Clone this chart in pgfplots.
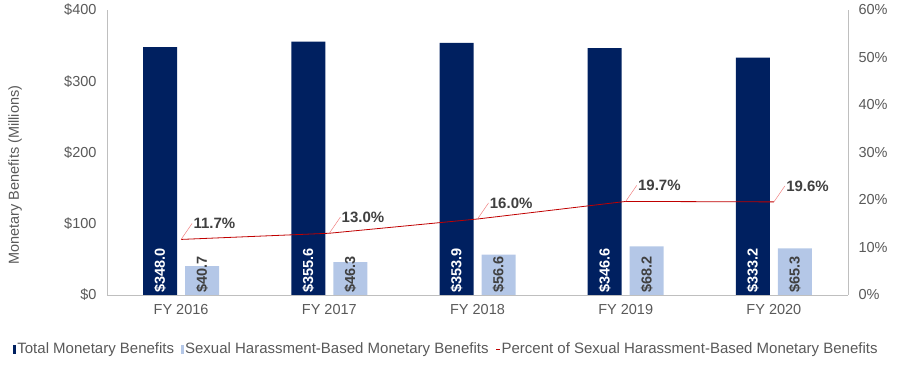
\documentclass[border=0pt]{standalone}
\usepackage{pgfplots}
\pgfplotsset{compat=1.18}
\usepackage{pgfplotstable}
\usepackage{fontspec}
\setmainfont{Liberation Sans}
\definecolor{navy}{HTML}{002060}
\definecolor{lblue}{HTML}{B4C7E7}
\definecolor{txt}{HTML}{595959}
\definecolor{lab}{HTML}{404040}
\definecolor{axg}{HTML}{BFBFBF}
\definecolor{lred}{HTML}{C00000}
\definecolor{pink}{HTML}{F08080}

\pgfplotstableread{
x total sh pct
0 348.0 40.7 11.7
1 355.6 46.3 13.0
2 353.9 56.6 16.0
3 346.6 68.2 19.7
4 333.2 65.3 19.6
}\data

\begin{document}
\begin{tikzpicture}
\begin{axis}[name=ax, scale only axis, width=741pt, height=285pt,
  xmin=-0.5, xmax=4.5, ymin=0, ymax=400,
  axis x line*=bottom, axis y line*=left,
  axis line style={axg, line width=0.8pt, -},
  xtick={0,1,2,3,4},
  xticklabels={FY 2016,FY 2017,FY 2018,FY 2019,FY 2020},
  ytick={0,100,200,300,400},
  yticklabel={\$\pgfmathprintnumber{\tick}},
  major tick length=0pt,
  /pgf/number format/assume math mode=true,
  tick label style={font=\fontsize{14.5}{17}\selectfont, text=txt},
  yticklabel style={xshift=-7pt},
  xticklabel style={yshift=-6pt},
  ylabel={Monetary Benefits (Millions)},
  ylabel style={font=\fontsize{14.5}{17}\selectfont, text=txt,
     at={(axis description cs:-0.124,0.421)}, anchor=center},
  legend style={draw=none, fill=none, at={(0.4575,-0.19)}, anchor=center,
     font=\fontsize{15}{17}\selectfont, text=txt, legend columns=3,
     /tikz/every even column/.append style={column sep=6pt},
     /tikz/every odd column/.append style={column sep=0pt},
     nodes={inner xsep=1pt},
     inner xsep=0pt},
  legend cell align=left,
]
\addplot[ybar, bar width=34pt, bar shift=-21pt, fill=navy, draw=none,
  legend image code/.code={\fill[navy] (0pt,-5pt) rectangle (3pt,4pt);}]
  table[x=x,y=total]{\data};
\addlegendentry{Total Monetary Benefits}
\addplot[ybar, bar width=34pt, bar shift=21pt, fill=lblue, draw=none,
  legend image code/.code={\fill[lblue] (0pt,-5pt) rectangle (3pt,4pt);}]
  table[x=x,y=sh]{\data};
\addlegendentry{Sexual Harassment-Based Monetary Benefits}
\addlegendimage{lred, line width=1pt,
  legend image code/.code={\draw[lred, line width=1pt] (0pt,0pt) -- (4pt,0pt);}}
\addlegendentry{Percent of Sexual Harassment-Based Monetary Benefits}
% bar value labels
\addplot[forget plot, draw=none, mark=none,
  point meta=explicit,
  nodes near coords={\$\pgfmathprintnumber[fixed,fixed zerofill,precision=1]{\pgfplotspointmeta}},
  every node near coord/.append style={xshift=-21pt, rotate=90, anchor=west, inner sep=2pt,
     font=\bfseries\fontsize{14.5}{16}\selectfont, text=white}]
  table[x=x, y expr=0, meta=total]{\data};
\addplot[forget plot, draw=none, mark=none,
  point meta=explicit,
  nodes near coords={\$\pgfmathprintnumber[fixed,fixed zerofill,precision=1]{\pgfplotspointmeta}},
  every node near coord/.append style={xshift=21pt, rotate=90, anchor=west, inner sep=2pt,
     font=\bfseries\fontsize{14.5}{16}\selectfont, text=lab}]
  table[x=x, y expr=0, meta=sh]{\data};
\end{axis}
\begin{axis}[scale only axis, width=741pt, height=285pt,
  xmin=-0.5, xmax=4.5, ymin=0, ymax=60,
  axis x line=none, axis y line*=right,
  axis line style={axg, line width=0.8pt, -},
  ytick={0,10,20,30,40,50,60},
  yticklabel={\pgfmathprintnumber{\tick}\%},
  major tick length=0pt,
  /pgf/number format/assume math mode=true,
  tick label style={font=\fontsize{14.5}{17}\selectfont, text=txt},
  yticklabel style={xshift=7pt},
]
\addplot[lred, line width=0.8pt, mark=none, point meta=explicit,
  nodes near coords={\pgfmathprintnumber[fixed,fixed zerofill,precision=1]{\pgfplotspointmeta}\%},
  every node near coord/.append style={anchor=west, inner sep=1pt,
     xshift=11pt, yshift=16pt, text=lab,
     font=\bfseries\fontsize{15}{17}\selectfont,
     append after command={(\tikzlastnode.west) edge[pink, line width=0.5pt] ++(-11pt,-16pt)}}]
  table[x=x,y=pct,meta=pct]{\data};
\end{axis}
\path (ax.south west) ++(-107pt,-85pt) rectangle ++(900pt,380pt);
\end{tikzpicture}
\end{document}
